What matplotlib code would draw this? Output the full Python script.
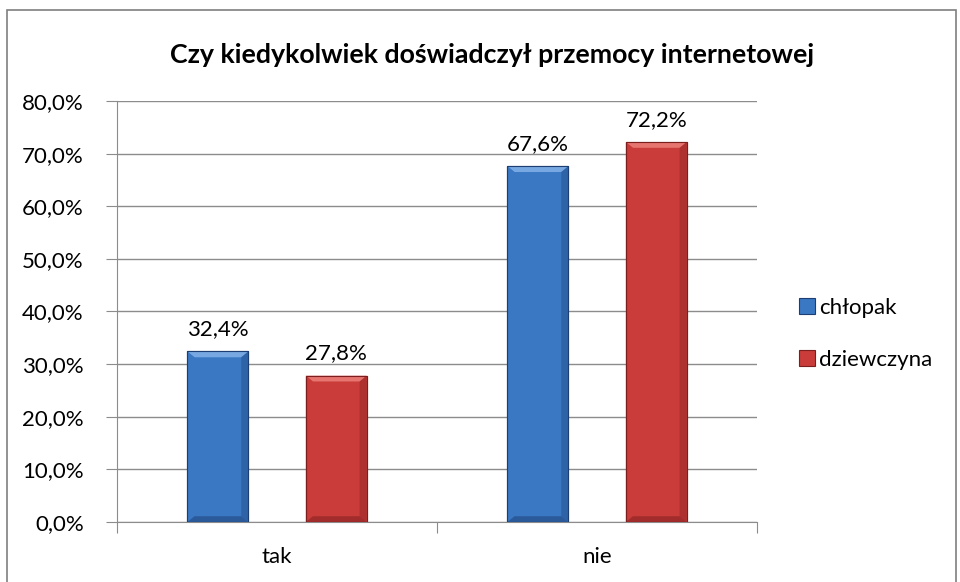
import matplotlib
matplotlib.use('Agg')
import matplotlib.pyplot as plt
from matplotlib.patches import Rectangle, Polygon
import numpy as np

categories = ['tak', 'nie']
series_names = ['chłopak', 'dziewczyna']
chlopak = [32.4, 67.6]
dziewczyna = [27.8, 72.2]
yticks = [0, 10, 20, 30, 40, 50, 60, 70, 80]

plt.rcParams['font.family'] = ['Lato', 'DejaVu Sans']

# face, light top bevel, dark edge
colors = {
    'chłopak': ('#3A78C4', '#78A8E2', '#1D3E72'),
    'dziewczyna': ('#C93C3A', '#E6746F', '#7C1E1E'),
}

fig = plt.figure(figsize=(9.6, 5.82), dpi=100)
ax = fig.add_axes([0.1219, 0.1031, 0.6667, 0.7234])

x = np.arange(len(categories))
width = 0.19
offset = 0.185
bx = 0.022   # bevel size in data units
by = 1.1
fs = 16

def draw_bevel_bars(xs, vals, name):
    face, light, dark = colors[name]
    bars = ax.bar(xs, vals, width, color=face, edgecolor=dark, linewidth=0.8,
                  label=name, zorder=3)
    for b in bars:
        x0, y0 = b.get_x(), b.get_y()
        w, h = b.get_width(), b.get_height()
        x1, y1 = x0 + w, y0 + h
        # top bevel
        ax.add_patch(Polygon([(x0, y1), (x1, y1), (x1 - bx, y1 - by), (x0 + bx, y1 - by)],
                             closed=True, facecolor=light, edgecolor='none', zorder=4))
        # left / right bevel
        ax.add_patch(Polygon([(x0, y0), (x0 + bx, y0 + by), (x0 + bx, y1 - by), (x0, y1)],
                             closed=True, facecolor=face, edgecolor='none', alpha=0.6, zorder=4))
        ax.add_patch(Polygon([(x1, y0), (x1 - bx, y0 + by), (x1 - bx, y1 - by), (x1, y1)],
                             closed=True, facecolor=dark, edgecolor='none', alpha=0.35, zorder=4))
        # bottom bevel
        ax.add_patch(Polygon([(x0, y0), (x1, y0), (x1 - bx, y0 + by), (x0 + bx, y0 + by)],
                             closed=True, facecolor=dark, edgecolor='none', alpha=0.5, zorder=4))
        ax.add_patch(Rectangle((x0, y0), w, h, facecolor='none', edgecolor=dark,
                               linewidth=0.8, zorder=5))
        ax.text(b.get_x() + w / 2, y1 + 2.3, f'{h:.1f}%'.replace('.', ','),
                ha='center', va='bottom', fontsize=fs, zorder=6)
    return bars

draw_bevel_bars(x - offset, chlopak, 'chłopak')
draw_bevel_bars(x + offset, dziewczyna, 'dziewczyna')

ax.set_xlim(-0.5, 1.5)
ax.set_ylim(0, 80)
ax.set_yticks(yticks)
ax.set_yticklabels([f'{v:.1f}%'.replace('.', ',') for v in yticks], fontsize=fs)
ax.yaxis.grid(True, color='#8c8c8c', linewidth=1)
ax.set_axisbelow(True)

ax.set_xticks([-0.5, 0.5, 1.5])
ax.set_xticklabels([])
ax.set_xticks(x, minor=True)
ax.set_xticklabels(categories, minor=True, fontsize=fs)
ax.tick_params(axis='x', which='minor', length=0, pad=18)
ax.tick_params(axis='x', which='major', length=8, color='#8c8c8c')
ax.tick_params(axis='y', length=8, color='#8c8c8c', pad=16)

for s in ['top', 'right']:
    ax.spines[s].set_visible(False)
for s in ['left', 'bottom']:
    ax.spines[s].set_color('#8c8c8c')

fig.text(0.5125, 0.905, 'Czy kiedykolwiek doświadczył przemocy internetowej',
         ha='center', va='center', fontsize=19.3, fontweight='bold')

leg = ax.legend(loc='center left', bbox_to_anchor=(1.035, 0.447), frameon=False,
                fontsize=fs, handlelength=0.7, handleheight=0.7,
                handletextpad=0.2, labelspacing=1.45)

fig.patches.append(Rectangle((7 / 960, -0.01), 949 / 960, 1 - 10 / 582 + 0.01,
                             transform=fig.transFigure, fill=False,
                             edgecolor='#7f7f7f', linewidth=1.2))

fig.savefig('out.png', dpi=100)
